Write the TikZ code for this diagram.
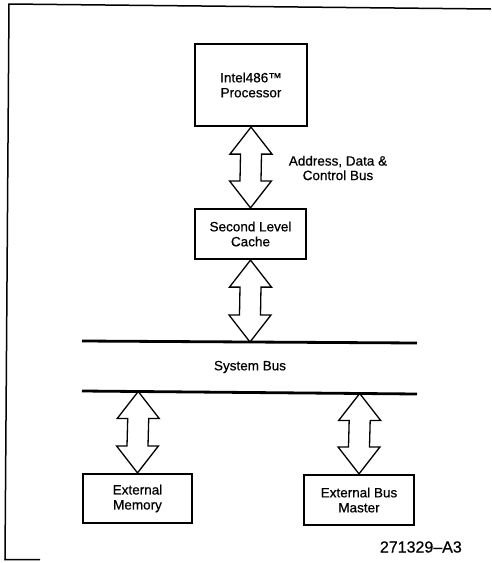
\documentclass[tikz,border=0pt]{standalone}
\usepackage{fontspec}
\setmainfont[FakeBold=0.6]{Liberation Sans}
\usetikzlibrary{calc}
\tikzset{
  box/.style={draw, line width=2.2pt, inner sep=0pt, align=center,
    font=\fontsize{13.5}{15}\selectfont},
  barrow/.style={draw, line width=1.3pt, line join=miter},
  busline/.style={line width=2.8pt},
  framerule/.style={line width=1.5pt},
  lbl/.style={inner sep=0pt, align=center, font=\fontsize{13.5}{14.5}\selectfont},
  code/.style={inner sep=0pt, font=\fontsize{16}{18}\selectfont}
}
\newcommand\dblarrow[2]{%
  \draw[barrow] let \p1=(#1), \p2=(#2) in
    (\x1,\y1) -- (\x1+21pt,\y1-27pt) -- (\x1+10.5pt,\y1-27pt)
    -- (\x2+10.5pt,\y2+27pt) -- (\x2+21pt,\y2+27pt) -- (\x2,\y2)
    -- (\x2-21pt,\y2+27pt) -- (\x2-10.5pt,\y2+27pt)
    -- (\x1-10.5pt,\y1-27pt) -- (\x1-21pt,\y1-27pt) -- cycle;}
\begin{document}
\begin{tikzpicture}[x=1pt,y=-1pt]
\useasboundingbox (0,0) rectangle (491,563);
% frame
\coordinate (ftr) at (491,9);
\coordinate (ftl) at (9,4);
\coordinate (fbl) at (5,559.5);
\coordinate (fbe) at (40,559.5);
\draw[framerule] (ftr) -- (ftl) -- (fbl) -- (fbe);
% boxes
\node[box, minimum width=112pt, minimum height=82pt] (proc) at (251,85) {Intel486™\\Processor};
\node[box, minimum width=111pt, minimum height=50pt] (cache) at (250.5,234) {Second Level\\Cache};
\node[box, minimum width=109pt, minimum height=49pt] (mem) at (137.5,498.5) {External\\Memory};
\node[box, minimum width=110pt, minimum height=50pt] (master) at (359,500) {External Bus\\Master};
% buses
\coordinate (b1w) at (82,341);
\coordinate (b1e) at (417,343);
\coordinate (b2w) at (82,391);
\coordinate (b2e) at (417,394);
\draw[busline] (b1w) -- (b1e);
\draw[busline] (b2w) -- (b2e);
\node[lbl] (sysbus) at (250,367) {System Bus};
% arrows
\dblarrow{proc.south}{cache.north}
\dblarrow{cache.south}{$(b1w)!(cache.south)!(b1e)$}
\dblarrow{$(b2w)!(mem.north)!(b2e)$}{mem.north}
\dblarrow{$(b2w)!(master.north)!(b2e)$}{master.north}
% labels
\node[lbl] (acb) at (338,168) {Address, Data \&\\Control Bus};
\node[code, anchor=east] (fig) at (462,547) {271329–A3};
\end{tikzpicture}
\end{document}
